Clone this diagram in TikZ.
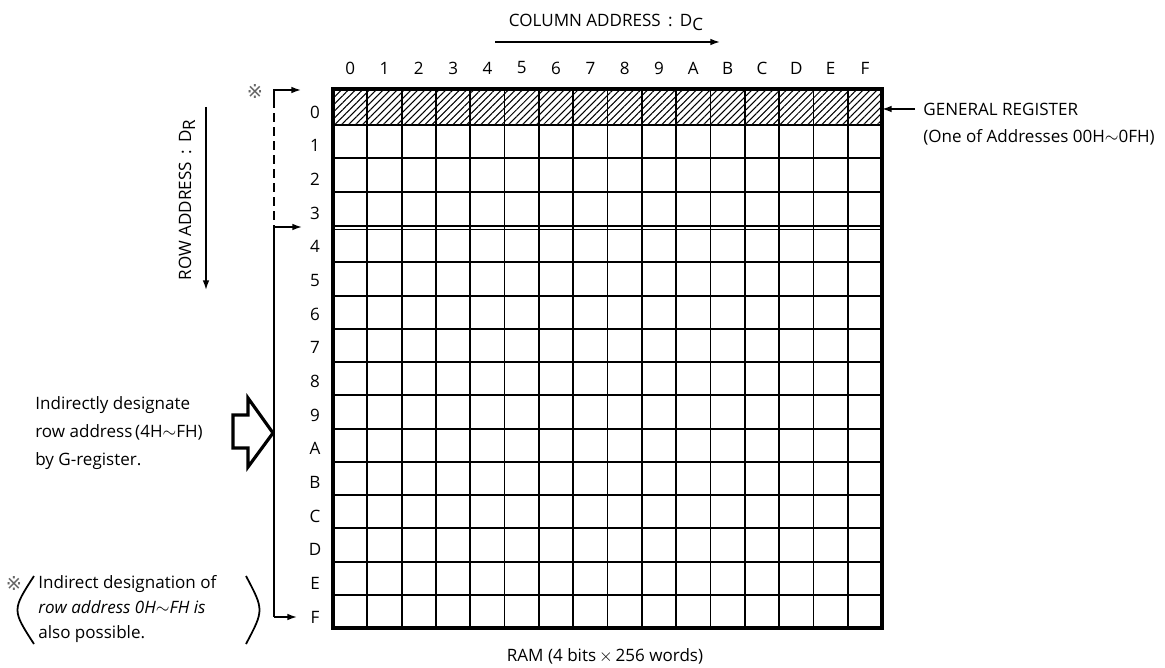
\documentclass[tikz,border=0pt]{standalone}
\usepackage{fontspec}
\setmainfont{Open Sans}
\newfontfamily\marksym{DejaVu Sans}
\usetikzlibrary{arrows.meta,patterns.meta}
\newcommand{\lowsub}[1]{\raisebox{-0.45ex}{#1}}

\begin{document}
\begin{tikzpicture}[x=0.02cm,y=-0.02cm,
  lbl/.style={font=\fontsize{9.7}{11}\selectfont, inner sep=0pt},
  note/.style={lbl, align=left, anchor=west},
  refmark/.style={lbl, font=\fontsize{11}{11}\selectfont, text=black!60},
  cell/.style={line width=1pt},
  frame/.style={line width=2.4pt},
  ptr/.style={line width=0.9pt, -{Latex[length=5.5pt,width=3.8pt]}}]

\useasboundingbox (0,0) rectangle (1165,668);

\coordinate (nw) at (333,89);
\coordinate (se) at (882,628);

\fill[pattern={Lines[angle=45,distance=2.8pt,line width=0.6pt]}] (nw) rectangle (882,125);

\foreach \y in {125,158,192,262,296,329,362,395,429,462,495,528,562,595}
  \draw[cell] (333,\y) -- (882,\y);
\draw[cell, line width=0.7pt] (333,226) -- (882,226);
\draw[cell, line width=0.7pt] (333,229.5) -- (882,229.5);
\foreach \i in {1,...,15}
  \draw[cell] ({333+34.3125*\i},89) -- ({333+34.3125*\i},628);
\draw[frame] (nw) rectangle (se);

\foreach \c [count=\i from 0] in {0,1,2,3,4,5,6,7,8,9,A,B,C,D,E,F} {
  \node[lbl] (c\c) at ({350.2+34.3125*\i},68) {\c};
  \node[lbl] (r\c) at (315,{112+33.67*\i}) {\c};
}

\node[lbl] (coladdr) at (606,22) {COLUMN ADDRESS\, :\, D\lowsub{C}};
\coordinate (col0) at (495,42);
\coordinate (col1) at (720,42);
\draw[ptr] (col0) -- (col1);

\node[lbl, rotate=90] (rowaddr) at (187,200) {ROW ADDRESS\, :\, D\lowsub{R}};
\coordinate (row0) at (206,107);
\coordinate (row1) at (206,290);
\draw[ptr] (row0) -- (row1);

\node[refmark] (mark1) at (255,92) {\marksym ※};
\coordinate (brk0) at (274,99);
\coordinate (brk1) at (274,227);
\coordinate (brkF) at (274,617);
\coordinate (tip0) at (301,90);
\coordinate (tip4) at (302,227);
\coordinate (tipF) at (297,617);
\draw[ptr] (brk0) |- (tip0);
\draw[cell, dashed, dash pattern=on 5pt off 3pt] (brk0) -- (brk1);
\draw[cell] (brk1) -- (brkF);
\draw[ptr] (brk1) -- (tip4);
\draw[ptr] (brkF) -- (tipF);

\draw[line width=1.8pt, line join=miter] (233,415) -- (248,415) -- (248,398) -- (273,433)
  -- (248,467) -- (248,448) -- (233,448) -- cycle;

\node[note, font=\fontsize{9.7}{15.9}\selectfont] (indir) at (35,433)
  {Indirectly designate\\row address\,(4H$\sim$FH)\\by G-register.};

\node[refmark] (mark2) at (14,583) {\marksym ※};
\node[note, font=\fontsize{9.7}{14}\selectfont] (indnote) at (38,609)
  {Indirect designation of\\\textit{row address 0H$\sim$FH is}\\also possible.};
\draw[cell] (34,576) .. controls (12,610) .. (34,644);
\draw[cell] (246,576) .. controls (264,610) .. (246,644);

\node[note] (genreg) at (923,109) {GENERAL REGISTER};
\node[note] (genaddr) at (923,137) {(One of Addresses 00H$\sim$0FH)};
\coordinate (regin) at (882,109);
\draw[ptr, shorten <=0.16cm] (genreg.west) -- (regin);

\node[lbl] (ramcap) at (605,656) {RAM (4 bits$\,\times\,$256 words)};

\end{tikzpicture}
\end{document}
